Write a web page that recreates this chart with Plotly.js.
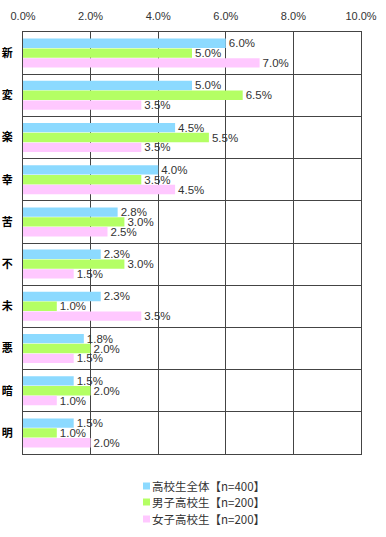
<!DOCTYPE html>
<html>
<head>
<meta charset="utf-8">
<script src="https://cdn.plot.ly/plotly-3.0.1.min.js"></script>
<style>html,body{margin:0;padding:0;background:#fff;}#chart{width:386px;height:537px;}</style>
</head>
<body>
<div id="chart"></div>
<script>
var categories = ["新", "変", "楽", "幸", "苦", "不", "未", "悪", "暗", "明"];
var seriesNames = ["高校生全体【n=400】", "男子高校生【n=200】", "女子高校生【n=200】"];
var allStudents = [6.0, 5.0, 4.5, 4.0, 2.8, 2.3, 2.3, 1.8, 1.5, 1.5];
var boys = [5.0, 6.5, 5.5, 3.5, 3.0, 3.0, 1.0, 2.0, 2.0, 1.0];
var girls = [7.0, 3.5, 3.5, 4.5, 2.5, 1.5, 3.5, 1.5, 1.0, 2.0];
var xTicks = [0, 2, 4, 6, 8, 10];

var colors = ["#8cdaff", "#b4ff64", "#ffc8ff"];
var series = [allStudents, boys, girls];

var traces = series.map(function (vals, i) {
  return {
    type: "bar",
    orientation: "h",
    name: seriesNames[i],
    y: categories,
    x: vals,
    marker: { color: colors[i] },
    text: vals.map(function (v) { return v.toFixed(1) + "%"; }),
    textposition: "outside",
    constraintext: "none",
    cliponaxis: false,
    textfont: { family: "Liberation Sans, Arial, sans-serif", size: 11.5, color: "#333" },
    hoverinfo: "none",
    showlegend: false
  };
});

var L = 23, R = 361, T = 32, B = 454;
var W = R - L, H = B - T;
function px2x(p) { return (p - L) / W; }
function py2y(p) { return (B - p) / H; }

var rowsY = [486, 502, 519];
var shapes = [], annotations = [];
seriesNames.forEach(function (n, i) {
  shapes.push({
    type: "rect", xref: "paper", yref: "paper",
    xsizemode: "pixel", ysizemode: "pixel",
    xanchor: px2x(143), yanchor: py2y(rowsY[i]),
    x0: 0, x1: 7, y0: -3.5, y1: 3.5,
    fillcolor: colors[i], line: { width: 0 }
  });
  annotations.push({
    xref: "paper", yref: "paper", x: px2x(150), y: py2y(rowsY[i]),
    xanchor: "left", yanchor: "middle", showarrow: false,
    text: n, font: { family: "Noto Sans CJK JP", size: 11.5, color: "#333" }
  });
});

var layout = {
  width: 386, height: 537,
  margin: { l: L, r: 386 - R, t: T, b: 537 - B, pad: 0 },
  paper_bgcolor: "#fff", plot_bgcolor: "#fff",
  barmode: "group", bargap: 0.3, bargroupgap: 0.05,
  showlegend: false,
  xaxis: {
    side: "top", range: [0, 10], tickvals: xTicks,
    ticktext: xTicks.map(function (v) { return v.toFixed(1) + "%"; }),
    showgrid: true, gridcolor: "#444", gridwidth: 1, zeroline: false,
    showline: true, mirror: true, linecolor: "#444", linewidth: 1,
    ticks: "", ticklabelstandoff: 7, fixedrange: true,
    tickfont: { family: "Liberation Sans, Arial, sans-serif", size: 11, color: "#333" }
  },
  yaxis: {
    type: "category", categoryarray: categories, categoryorder: "array",
    autorange: "reversed", tickson: "boundaries",
    showgrid: true, gridcolor: "#444", gridwidth: 1,
    showline: true, mirror: true, linecolor: "#444", linewidth: 1,
    ticks: "", ticklabelstandoff: 7, fixedrange: true,
    tickfont: { family: "Noto Sans CJK JP", size: 11, color: "#000", weight: "bold" }
  },
  shapes: shapes,
  annotations: annotations
};

Plotly.newPlot("chart", traces, layout, { displayModeBar: false, staticPlot: true });
</script>
</body>
</html>
